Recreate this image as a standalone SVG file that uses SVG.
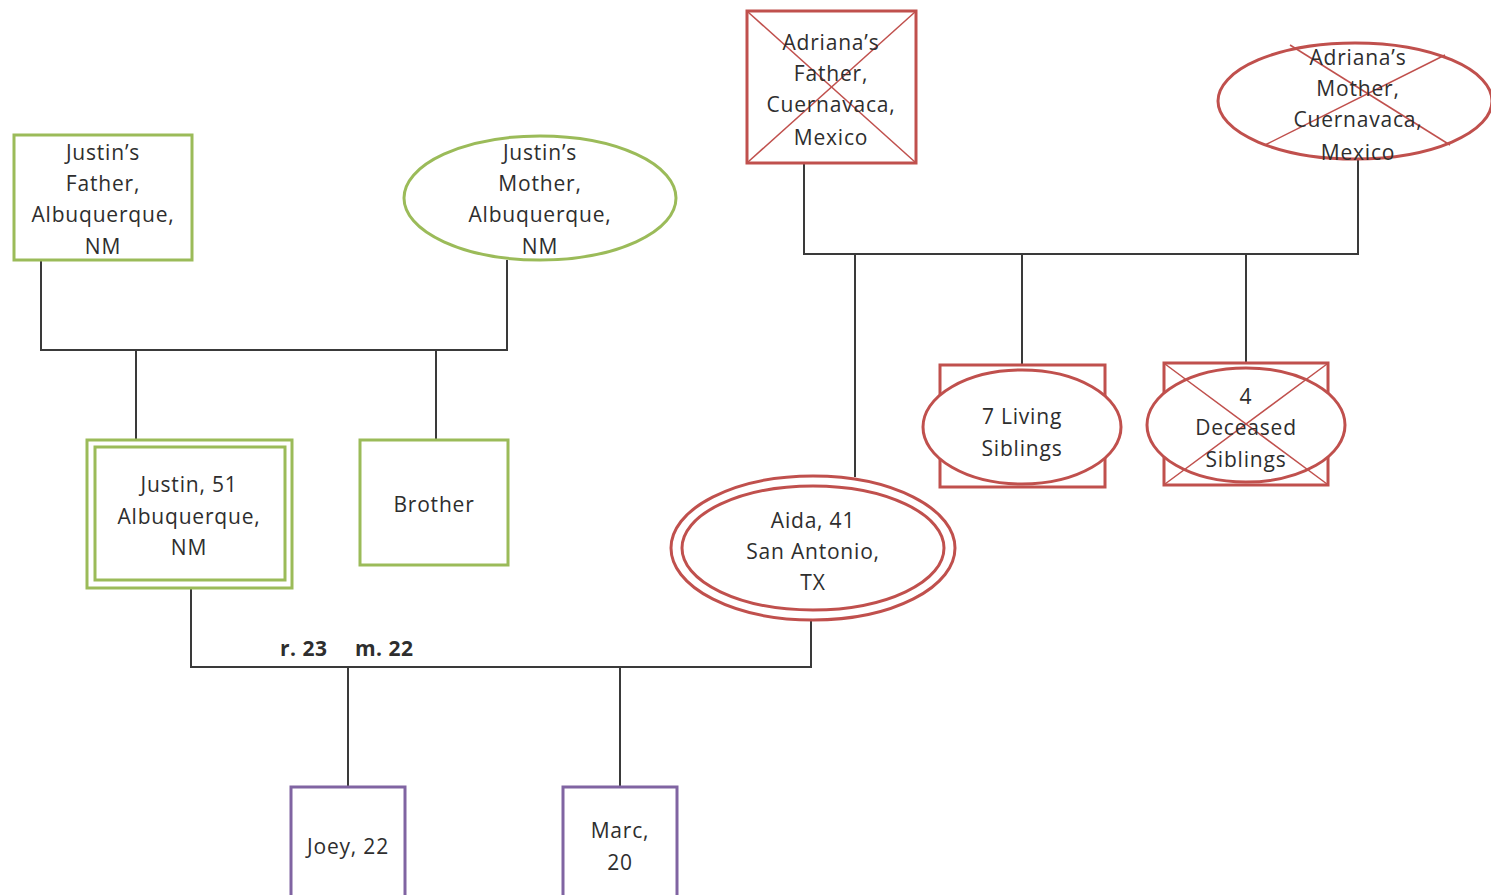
<svg xmlns="http://www.w3.org/2000/svg" width="1491" height="895" viewBox="0 0 1491 895">
  <style>
    .bg { fill: #ffffff; }
    .link { fill: none; stroke: #3a3a3a; stroke-width: 2; }
    .green { fill: #ffffff; stroke: #9bbb59; stroke-width: 3; }
    .red { fill: #ffffff; stroke: #c0504d; stroke-width: 3; }
    .redline { fill: none; stroke: #c0504d; stroke-width: 1.5; }
    .purple { fill: #ffffff; stroke: #8064a2; stroke-width: 3; }
    text { font-family: "Open Sans", "Liberation Sans", sans-serif; font-size: 21px; fill: #2e2e2e; text-anchor: middle; letter-spacing: 0.8px; }
    .bold { font-weight: bold; text-anchor: start; font-size: 21px; letter-spacing: 0.5px; }
  </style>
  <rect class="bg" x="0" y="0" width="1491" height="895"/>

  <!-- connectors -->
  <g id="connectors">
    <!-- Justin's parents -->
    <polyline class="link" points="41,260 41,350 507,350 507,260"/>
    <line class="link" x1="136" y1="350" x2="136" y2="440"/>
    <line class="link" x1="436" y1="350" x2="436" y2="440"/>
    <!-- Adriana's parents -->
    <polyline class="link" points="804,163 804,254 1358,254 1358,158"/>
    <line class="link" x1="855" y1="254" x2="855" y2="477"/>
    <line class="link" x1="1022" y1="254" x2="1022" y2="365"/>
    <line class="link" x1="1246" y1="254" x2="1246" y2="363"/>
    <!-- Justin and Aida -->
    <polyline class="link" points="191,588 191,667 811,667 811,620"/>
    <line class="link" x1="348" y1="667" x2="348" y2="787"/>
    <line class="link" x1="620" y1="667" x2="620" y2="787"/>
  </g>
  <text class="bold" x="280" y="656">r. 23</text>
  <text class="bold" x="355" y="656">m. 22</text>

  <g id="justins-father">
    <rect class="green" x="14" y="135" width="178" height="125"/>
    <text x="103" y="160">Justin’s</text>
    <text x="103" y="191">Father,</text>
    <text x="103" y="222">Albuquerque,</text>
    <text x="103" y="254">NM</text>
  </g>

  <g id="justins-mother">
    <ellipse class="green" cx="540" cy="198" rx="136" ry="62"/>
    <text x="540" y="160">Justin’s</text>
    <text x="540" y="191">Mother,</text>
    <text x="540" y="222">Albuquerque,</text>
    <text x="540" y="254">NM</text>
  </g>

  <g id="adrianas-father">
    <rect class="red" x="747" y="11" width="169" height="152"/>
    <line class="redline" x1="748" y1="12" x2="915" y2="162"/>
    <line class="redline" x1="915" y1="12" x2="748" y2="162"/>
    <text x="831" y="50">Adriana’s</text>
    <text x="831" y="81">Father,</text>
    <text x="831" y="112">Cuernavaca,</text>
    <text x="831" y="145">Mexico</text>
  </g>

  <g id="adrianas-mother">
    <ellipse class="red" cx="1355" cy="101" rx="137" ry="58"/>
    <line class="redline" x1="1290" y1="45" x2="1450" y2="145"/>
    <line class="redline" x1="1265" y1="145" x2="1445" y2="55"/>
    <text x="1358" y="65">Adriana’s</text>
    <text x="1358" y="96">Mother,</text>
    <text x="1358" y="127">Cuernavaca,</text>
    <text x="1358" y="160">Mexico</text>
  </g>

  <g id="justin">
    <rect class="green" x="87" y="440" width="205" height="148"/>
    <rect class="green" x="95" y="447" width="190" height="133"/>
    <text x="189" y="492">Justin, 51</text>
    <text x="189" y="524">Albuquerque,</text>
    <text x="189" y="555">NM</text>
  </g>

  <g id="brother">
    <rect class="green" x="360" y="440" width="148" height="125"/>
    <text x="434" y="512">Brother</text>
  </g>

  <g id="living-siblings">
    <rect class="red" x="940" y="365" width="165" height="122"/>
    <ellipse class="red" cx="1022" cy="427" rx="99" ry="57"/>
    <text x="1022" y="424">7 Living</text>
    <text x="1022" y="456">Siblings</text>
  </g>

  <g id="deceased-siblings">
    <rect class="red" x="1164" y="363" width="164" height="122"/>
    <ellipse class="red" cx="1246" cy="425" rx="99" ry="57"/>
    <line class="redline" x1="1165" y1="364" x2="1327" y2="484"/>
    <line class="redline" x1="1327" y1="364" x2="1165" y2="484"/>
    <text x="1246" y="404">4</text>
    <text x="1246" y="435">Deceased</text>
    <text x="1246" y="467">Siblings</text>
  </g>

  <g id="aida">
    <ellipse class="red" cx="813" cy="548" rx="142" ry="72"/>
    <ellipse class="red" cx="813" cy="548" rx="131" ry="62"/>
    <text x="813" y="528">Aida, 41</text>
    <text x="813" y="559">San Antonio,</text>
    <text x="813" y="590">TX</text>
  </g>

  <g id="joey">
    <rect class="purple" x="291" y="787" width="114" height="120"/>
    <text x="348" y="854">Joey, 22</text>
  </g>

  <g id="marc">
    <rect class="purple" x="563" y="787" width="114" height="120"/>
    <text x="620" y="838">Marc,</text>
    <text x="620" y="870">20</text>
  </g>
</svg>
